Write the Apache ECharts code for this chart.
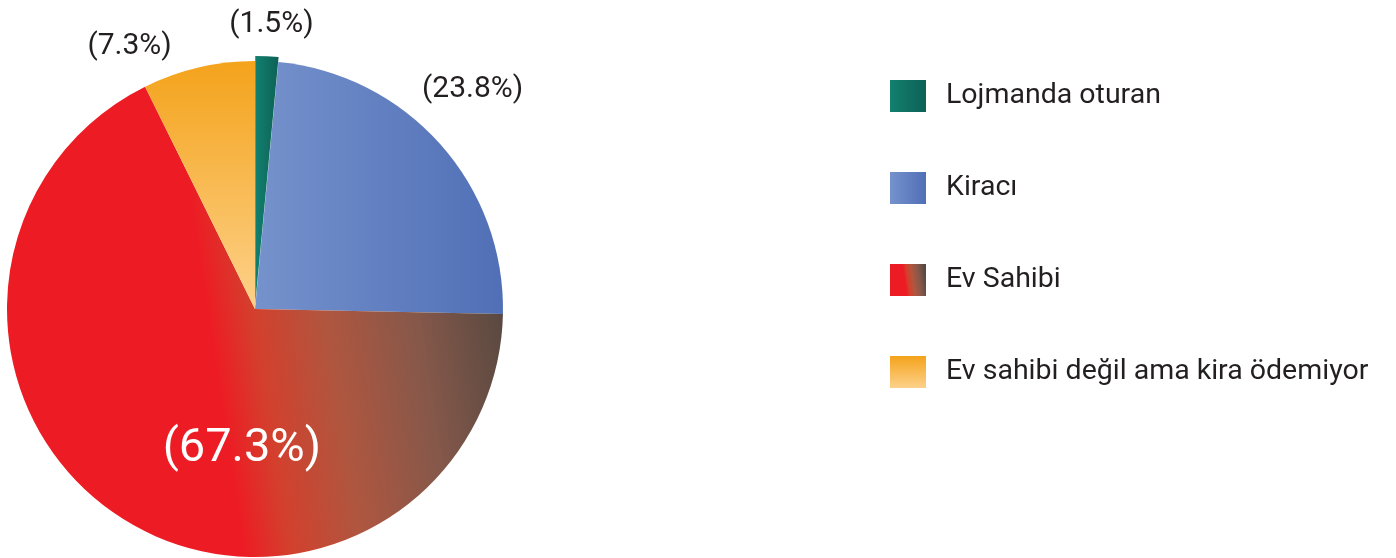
<!DOCTYPE html>
<html>
<head>
<meta charset="utf-8">
<script src="https://cdn.jsdelivr.net/npm/echarts@6/dist/echarts.min.js"></script>
<style>
  html, body { margin: 0; padding: 0; background: #fff; }
  #chart { width: 1396px; height: 558px; }
</style>
</head>
<body>
<div id="chart"></div>
<script>
const categories = ['Lojmanda oturan', 'Kiracı', 'Ev Sahibi', 'Ev sahibi değil ama kira ödemiyor'];
const shares = [1.5, 23.8, 67.3, 7.3];

const FONT = 'Roboto, "Liberation Sans", sans-serif';

const grad = (x, y, x2, y2, stops) => ({
  type: 'linear', x, y, x2, y2,
  colorStops: stops.map(([offset, color]) => ({ offset, color }))
});

const sliceColors = [
  grad(0, 0, 1, 0, [[0, '#12806F'], [1, '#0D6156']]),
  grad(0, 0, 1, 0, [[0, '#7592CC'], [1, '#506FB6']]),
  grad(0, 0.58, 1, 0.42, [
    [0, '#ED1C24'], [0.41, '#ED1C24'], [0.5, '#D3402D'],
    [0.64, '#B0563F'], [0.82, '#85584A'], [1, '#574840']
  ]),
  grad(0, 0, 0, 1, [[0, '#F4A31B'], [1, '#FDD18A']])
];

const labelText = v => '(' + v + '%)';
// label nudges, per slice
const labelShift = [[-43, -24], [-29, -49], [55, 33], [-20, -13]];

const chart = echarts.init(document.getElementById('chart'));

chart.setOption({
  animation: false,
  legend: {
    orient: 'vertical',
    left: 885,
    top: 75,
    icon: 'rect',
    itemWidth: 36,
    itemHeight: 32,
    itemGap: 60,
    selectedMode: false,
    textStyle: {
      fontFamily: FONT,
      fontSize: 28.5,
      color: '#231F20',
      padding: [0, 0, 0, 15]
    },
    data: categories
  },
  series: [
    {
      type: 'pie',
      center: [255, 309],
      radius: 248,
      startAngle: 90,
      clockwise: true,
      avoidLabelOverlap: false,
      selectedMode: 'single',
      selectedOffset: 5,
      label: {
        position: 'outside',
        formatter: p => labelText(p.value),
        fontFamily: FONT,
        fontSize: 30,
        color: '#231F20'
      },
      labelLine: { show: false, length: 8, length2: 0 },
      labelLayout: p => {
        const i = shares.findIndex(v => labelText(v) === p.text);
        const s = labelShift[i] || [0, 0];
        return { dx: s[0], dy: s[1] };
      },
      data: categories.map((name, i) => ({
        name,
        value: shares[i],
        selected: i === 0,
        itemStyle: { color: sliceColors[i] },
        label: i === 2 ? {
          position: 'inside',
          color: '#FFFFFF',
          fontSize: 47
        } : undefined
      }))
    }
  ]
});
</script>
</body>
</html>
